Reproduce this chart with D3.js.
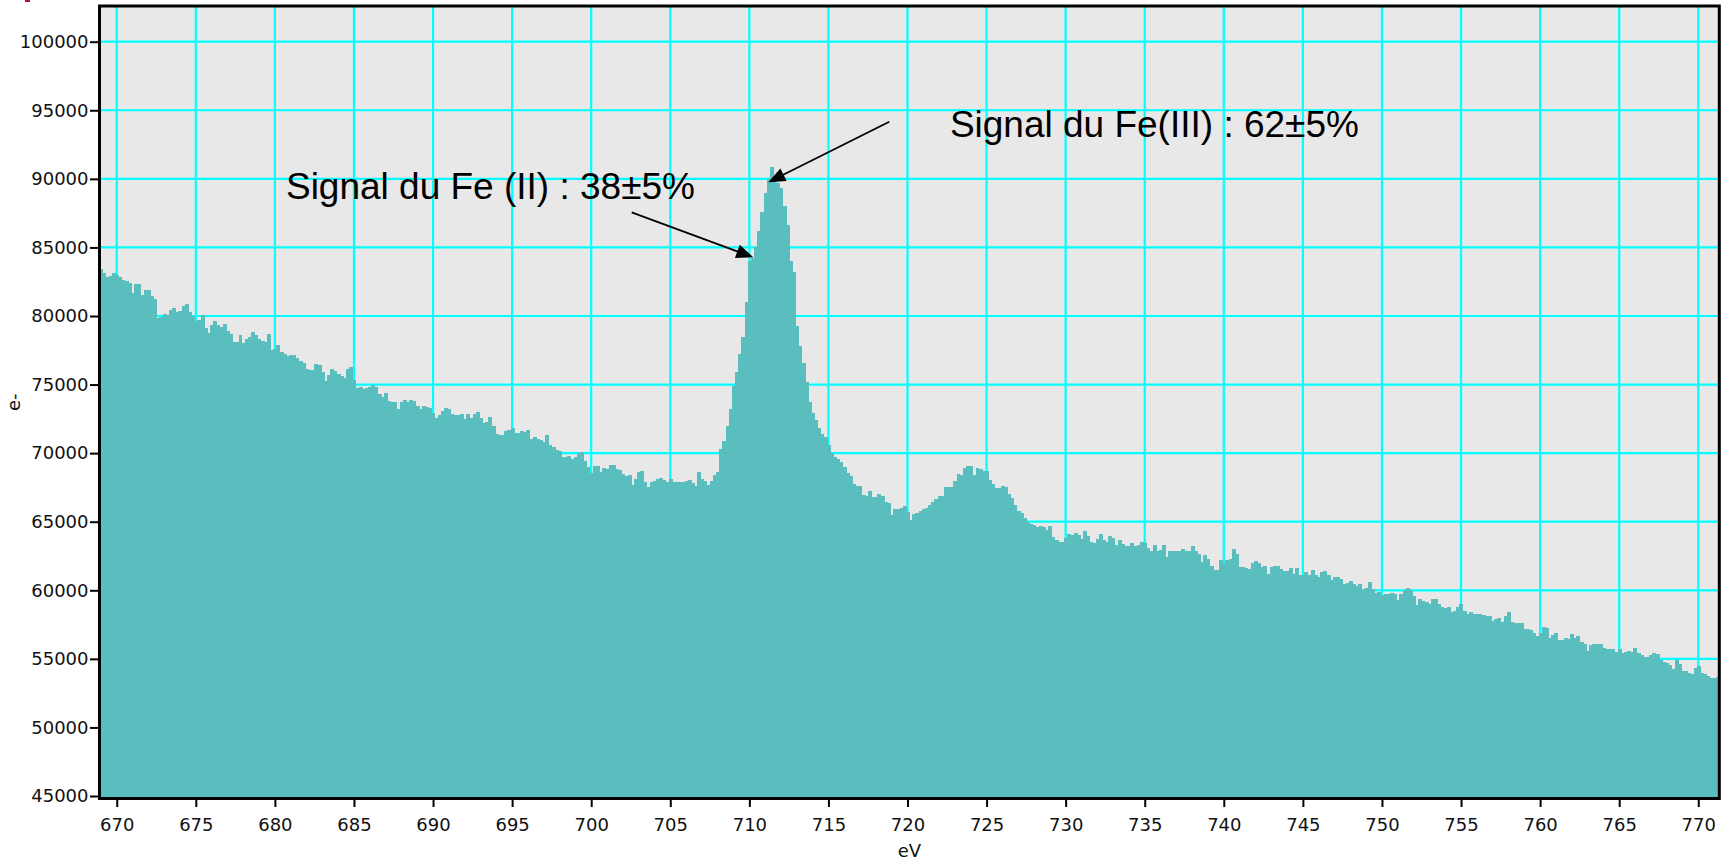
<!DOCTYPE html>
<html><head><meta charset="utf-8">
<script src="https://cdn.jsdelivr.net/npm/d3@7"></script>
<style>
html,body{margin:0;padding:0;background:#fff;}
svg{display:block;}
.tick text{font-family:"DejaVu Sans",sans-serif;font-size:18px;fill:#111;}
</style></head><body>
<svg id="chart" width="1736" height="861"></svg>
<script>
// Spectrum calibration: channel left edge (eV) and channel width (eV)
const energyStart = 668.9;
const channelWidth = 0.2;
// Counts (e-) per channel
const counts = [
 83400,83100,82870,82950,83150,82990,82850,82650,82550,82430,81690,82300,82300,81550,81900,81900,
 81450,81250,79850,79950,80150,80080,80450,80600,80300,80400,80700,80900,80290,79980,79600,79700,
 80050,79100,78750,79310,79650,79310,79200,79400,78900,78700,78140,78100,78580,78000,78300,78450,
 78800,78600,78300,78150,78100,78700,77500,77600,77900,77400,77250,77110,77150,77150,76940,76750,
 76550,76100,76050,76050,76500,76400,75900,75250,75700,76150,76000,75800,75600,75500,76100,76300,
 75300,74780,74800,74700,74780,74800,74950,74850,74300,74100,74400,73800,73730,73730,73200,73730,
 73850,73700,73850,73800,73450,73250,73430,73380,73310,72940,72580,72800,73050,73300,73250,72870,
 72800,72770,72820,72500,72820,72550,72820,73000,72550,72200,72300,72650,71960,71400,71350,71350,
 71600,71700,71800,71450,71500,71600,71560,71680,71000,71150,71050,70950,70830,71300,70600,70450,
 70250,70170,69700,69700,69800,69550,69700,70000,70050,69400,69000,68550,69050,69080,68650,68950,
 68830,69100,69130,68830,68750,68500,68350,68400,67700,68150,68600,68700,67860,67550,67900,68000,
 68100,68200,68050,67900,68100,67860,67900,67930,67930,68000,68050,67800,67620,68600,68150,68000,
 67650,68000,68400,68600,70300,70850,72000,73200,74900,75900,77200,78500,81000,84000,84200,85000,
 86200,87600,89000,90000,90900,90000,89700,89300,88000,86600,84000,83200,79300,77800,76600,75200,
 73700,72950,72400,71800,71390,71200,70600,70000,69700,69550,69350,68960,68550,68300,67750,67620,
 67570,66950,66900,67250,66820,66770,67000,66900,66450,66400,65500,65900,65900,66000,66150,65700,
 65100,65560,65610,65800,65900,66000,66200,66450,66660,66850,66900,67500,67560,67510,68000,68490,
 68420,68900,69070,69070,68400,68900,68850,68720,68710,68050,67750,67450,67450,67610,67500,67020,
 66720,66200,65780,65600,65300,64950,64850,64750,64630,64680,64600,64400,64700,63900,63700,63550,
 63500,63800,64100,64060,64200,64000,63750,64300,63950,63500,63460,63750,64100,63660,63500,63950,
 63780,63300,63650,63350,63220,63220,63460,63250,63300,63510,63450,63050,62900,63300,62850,62920,
 63300,62400,62870,62900,62900,62900,63000,62900,62870,63200,62870,62680,62070,62600,62310,61800,
 61500,61460,62200,62000,62240,62310,63000,62630,61700,61700,61650,61550,62000,62100,62000,61700,
 61750,61200,61700,61800,61750,61550,61380,61380,61600,61200,61600,61100,61100,61350,61090,61460,
 61100,60950,61300,61380,61090,60750,60950,60950,60800,60450,60500,60700,60480,60290,60450,60100,
 60150,60600,60100,59800,59900,59650,59700,59750,59800,59750,59300,59700,60000,60150,60050,59600,
 58900,59350,59250,59150,59000,59350,59350,59000,58800,58700,58800,58400,58500,58790,59000,58500,
 58250,58430,58300,58240,58240,58200,58140,58100,57750,57870,57950,57700,58160,58400,57700,57590,
 57590,57590,57150,57200,57100,56850,56670,56850,57340,57250,56500,56740,56910,56400,56350,56500,
 56450,56800,56500,56700,56200,56050,55600,56000,56060,56050,56050,55800,55700,55750,55750,55500,
 55750,55400,55500,55600,55530,55800,55400,55300,55150,55100,55300,55420,55350,54950,54750,54700,
 54550,54250,54900,54600,54080,54080,53960,53930,54300,54500,53950,53900,53750,53620,53600,53650
];
const xTicks = [670,675,680,685,690,695,700,705,710,715,720,725,730,735,740,745,750,755,760,765,770];
const yTicks = [45000,50000,55000,60000,65000,70000,75000,80000,85000,90000,95000,100000];
const xDomain = [668.91, 771.33];
const yDomain = [44818, 102603];
const xLabel = "eV";
const yLabel = "e-";
// Annotations: label, arrow tail (eV, e-), arrow tip (eV, e-)
const annotationLabels = ["Signal du Fe(III) : 62±5%", "Signal du Fe (II) : 38±5%"];
const annotationLabelAt = [[722.68, 93015], [680.70, 88494]];
const arrowTails = [[718.85, 94160], [702.56, 87560]];
const arrowTips = [[711.20, 89750], [710.25, 84280]];

const svg = d3.select("#chart");
const L = 99.5, R = 1719.3, T = 6, B = 798.5;
const x = d3.scaleLinear().domain(xDomain).range([L, R]);
const y = d3.scaleLinear().domain(yDomain).range([B, T]);

svg.append("rect").attr("x",25).attr("y",0).attr("width",5).attr("height",2).attr("fill","#b01048");

svg.append("defs").append("clipPath").attr("id","plotclip")
  .append("rect").attr("x",L).attr("y",T).attr("width",R-L).attr("height",B-T);

const plot = svg.append("g").attr("clip-path","url(#plotclip)");
plot.append("rect").attr("x",L).attr("y",T).attr("width",R-L).attr("height",B-T).attr("fill","#e8e8e8");

// grid
plot.append("g").selectAll("line.v").data(xTicks).join("line")
  .attr("x1",d=>x(d)).attr("x2",d=>x(d)).attr("y1",T).attr("y2",B)
  .attr("stroke","#00ffff").attr("stroke-width",2.2);
plot.append("g").selectAll("line.h").data(yTicks).join("line")
  .attr("y1",d=>y(d)).attr("y2",d=>y(d)).attr("x1",L).attr("x2",R)
  .attr("stroke","#00ffff").attr("stroke-width",2.2);

// bars
plot.append("g").attr("shape-rendering","crispEdges").selectAll("rect").data(counts).join("rect")
  .attr("x",(d,i)=>x(energyStart + i*channelWidth))
  .attr("width",(d,i)=>x(energyStart+(i+1)*channelWidth)-x(energyStart+i*channelWidth)+0.8)
  .attr("y",d=>y(d))
  .attr("height",d=>B - y(d) + 2)
  .attr("fill","#5bbebe");

// border
svg.append("rect").attr("x",L).attr("y",T).attr("width",R-L).attr("height",B-T)
  .attr("fill","none").attr("stroke","#000").attr("stroke-width",3);

// axes
const yAxis = svg.append("g").attr("transform",`translate(${L-1.5},0)`)
  .call(d3.axisLeft(y).tickValues(yTicks).tickSize(8).tickPadding(1.5).tickFormat(d3.format("d")));
const xAxis = svg.append("g").attr("transform",`translate(0,${B+1.5})`)
  .call(d3.axisBottom(x).tickValues(xTicks).tickSize(7).tickPadding(11).tickFormat(d3.format("d")));
[yAxis,xAxis].forEach(a=>{
  a.select(".domain").remove();
  a.selectAll(".tick line").attr("stroke","#000").attr("stroke-width",2);
});

svg.append("text").attr("x",(L+R)/2).attr("y",857).attr("text-anchor","middle")
  .attr("font-family","DejaVu Sans, sans-serif").attr("font-size",18).attr("fill","#111").text(xLabel);
svg.append("text").attr("transform",`translate(20,${(T+B)/2}) rotate(-90)`).attr("text-anchor","middle")
  .attr("font-family","DejaVu Sans, sans-serif").attr("font-size",18).attr("fill","#111").text(yLabel);

// annotations
const ann = svg.append("g");
annotationLabels.forEach((lab,k)=>{
  ann.append("text").attr("x",x(annotationLabelAt[k][0])).attr("y",y(annotationLabelAt[k][1]))
    .attr("font-family","Liberation Sans, Arial, sans-serif").attr("font-size",37).attr("fill","#000").text(lab);
  const x0 = x(arrowTails[k][0]), y0 = y(arrowTails[k][1]);
  const x1 = x(arrowTips[k][0]), y1 = y(arrowTips[k][1]);
  const ang = Math.atan2(y1-y0, x1-x0);
  const hl = 17, hw = 7;
  const bx = x1 - hl*Math.cos(ang), by = y1 - hl*Math.sin(ang);
  ann.append("line").attr("x1",x0).attr("y1",y0).attr("x2",bx+2*Math.cos(ang)).attr("y2",by+2*Math.sin(ang))
    .attr("stroke","#000").attr("stroke-width",1.8);
  const p = [[x1,y1],[bx - hw*Math.sin(ang), by + hw*Math.cos(ang)],[bx + hw*Math.sin(ang), by - hw*Math.cos(ang)]];
  ann.append("path").attr("d","M"+p.map(q=>q.join(",")).join("L")+"Z").attr("fill","#000");
});
</script>
</body></html>
